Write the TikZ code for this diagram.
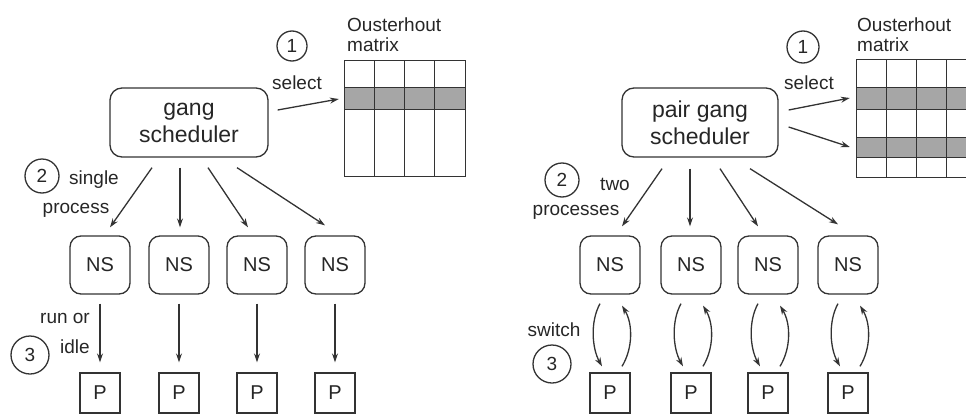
\documentclass[tikz,border=0pt]{standalone}
\usepackage{fontspec}
\setmainfont{Liberation Sans}
\usetikzlibrary{arrows.meta,calc}

\tikzset{
  ink/.style={draw=black!80, line width=1.3pt},
  arr/.style={ink, -{Stealth[open, length=9pt, width=6pt]}},
  schedbox/.style={ink, rounded corners=12pt, minimum width=158pt, minimum height=69pt,
    align=center, inner sep=0pt, text=black!85, font=\fontsize{23}{27}\selectfont},
  nsbox/.style={ink, rounded corners=11pt, minimum width=60pt, minimum height=58pt,
    inner sep=0pt, text=black!85, font=\fontsize{20}{24}\selectfont},
  pbox/.style={ink, minimum size=40pt, inner sep=0pt, text=black!85,
    font=\fontsize{20}{24}\selectfont},
  num/.style={ink, circle, inner sep=0pt, text=black!85, font=\fontsize{19}{22}\selectfont},
  lbl/.style={inner sep=0pt, text=black!85, font=\fontsize{19}{22}\selectfont},
  gridframe/.style={minimum width=120pt, inner sep=0pt},
  shade/.style={fill=black!35},
}

\begin{document}
\begin{tikzpicture}[x=1pt, y=-1pt]
\useasboundingbox (0,0) rectangle (966,415);
\clip (0,0) rectangle (966,415);

% ---------------- gang scheduling ----------------
\node[schedbox] (sL) at (189,122.5) {gang\\scheduler};
\node[num, minimum size=30pt] (c1L) at (292,46) {1};
\node[lbl] (selL) at (297,83) {select};
\node[lbl, anchor=west] (otL) at (347,25) {Ousterhout};
\node[lbl, anchor=west] (mxL) at (347,45) {matrix};

% Ousterhout matrix: four columns, one selected row
\node[gridframe, minimum height=115pt] (mL) at (405,118.5) {};
\fill[shade] ($(mL.north west)+(0,27)$) rectangle ($(mL.north east)+(0,49)$);
\foreach \dx in {30,60,90}
  \draw[ink] ($(mL.north west)+(\dx,0)$) -- ($(mL.south west)+(\dx,0)$);
\foreach \dy in {27,49}
  \draw[ink] ($(mL.north west)+(0,\dy)$) -- ($(mL.north east)+(0,\dy)$);
\draw[ink] (mL.north west) rectangle (mL.south east);

\draw[arr] ($(sL.east)+(9,-12.5)$) -- ($(mL.west)+(-6,-19.5)$);

\node[num, minimum size=34pt] (c2L) at (42,176) {2};
\node[lbl] (sgL) at (94,180) {single};
\node[lbl] (prL) at (76,210) {process};

\foreach \i/\x in {1/100,2/179,3/257,4/335} {
  \node[nsbox] (nsL\i) at (\x,265) {NS};
  \node[pbox] (pL\i) at (\x,393) {P};
  \draw[arr] ($(nsL\i.south)+(0,9)$) -- ($(pL\i.north)+(0,-10)$);
}

\draw[arr] ($(sL.south)+(-37,10)$) -- ($(nsL1.north)+(10,-8)$);
\draw[arr] ($(sL.south)+(-9,10)$)  -- ($(nsL2.north)+(1,-8)$);
\draw[arr] ($(sL.south)+(19,10)$)  -- ($(nsL3.north)+(-9,-8)$);
\draw[arr] ($(sL.south)+(48,10)$)  -- ($(nsL4.north)+(-10,-10)$);

\node[lbl] (roL) at (65,318) {run or};
\node[lbl] (idL) at (75,347) {idle};
\node[num, minimum size=38pt] (c3L) at (30,355) {3};

% ---------------- pair gang scheduling ----------------
\node[schedbox, minimum width=156pt] (sR) at (700,122.5) {pair gang\\scheduler};
\node[num, minimum size=32pt] (c1R) at (803,47) {1};
\node[lbl] (selR) at (809,83) {select};
\node[lbl, anchor=west] (otR) at (857,25) {Ousterhout};
\node[lbl, anchor=west] (mxR) at (857,45) {matrix};

% Ousterhout matrix: two selected rows
\node[gridframe, minimum height=117pt] (mR) at (917,118.5) {};
\fill[shade] ($(mR.north west)+(0,28)$) rectangle ($(mR.north east)+(0,50)$);
\fill[shade] ($(mR.north west)+(0,78)$) rectangle ($(mR.north east)+(0,98)$);
\foreach \dx in {30,60,90}
  \draw[ink] ($(mR.north west)+(\dx,0)$) -- ($(mR.south west)+(\dx,0)$);
\foreach \dy in {28,50,78,98}
  \draw[ink] ($(mR.north west)+(0,\dy)$) -- ($(mR.north east)+(0,\dy)$);
\draw[ink] (mR.north west) rectangle (mR.south east);

\draw[arr] ($(sR.east)+(10,-12.5)$) -- ($(mR.west)+(-7,-20.5)$);
\draw[arr] ($(sR.east)+(10,4.5)$)   -- ($(mR.west)+(-7,28.5)$);

\node[num, minimum size=34pt] (c2R) at (562,180) {2};
\node[lbl] (twR) at (615,184) {two};
\node[lbl] (prR) at (576,212) {processes};

\foreach \i/\x in {1/610,2/691,3/768,4/848} {
  \node[nsbox] (nsR\i) at (\x,265) {NS};
  \node[pbox] (pR\i) at (\x,393) {P};
  \draw[arr] ($(nsR\i.south)+(-10,9)$) .. controls +(-10,18) and +(-10,-18) .. ($(pR\i.north)+(-8,-6)$);
  \draw[arr] ($(pR\i.north)+(12,-6)$) .. controls +(11,-18) and +(11,18) .. ($(nsR\i.south)+(12,11)$);
}

\draw[arr] ($(sR.south)+(-38,11)$) -- ($(nsR1.north)+(12,-9)$);
\draw[arr] ($(sR.south)+(-10,11)$) -- ($(nsR2.north)+(-1,-9)$);
\draw[arr] ($(sR.south)+(20,11)$)  -- ($(nsR3.north)+(-10,-9)$);
\draw[arr] ($(sR.south)+(50,11)$)  -- ($(nsR4.north)+(-10,-11)$);

\node[lbl] (swR) at (554,330) {switch};
\node[num, minimum size=38pt] (c3R) at (552,364) {3};
\end{tikzpicture}
\end{document}
